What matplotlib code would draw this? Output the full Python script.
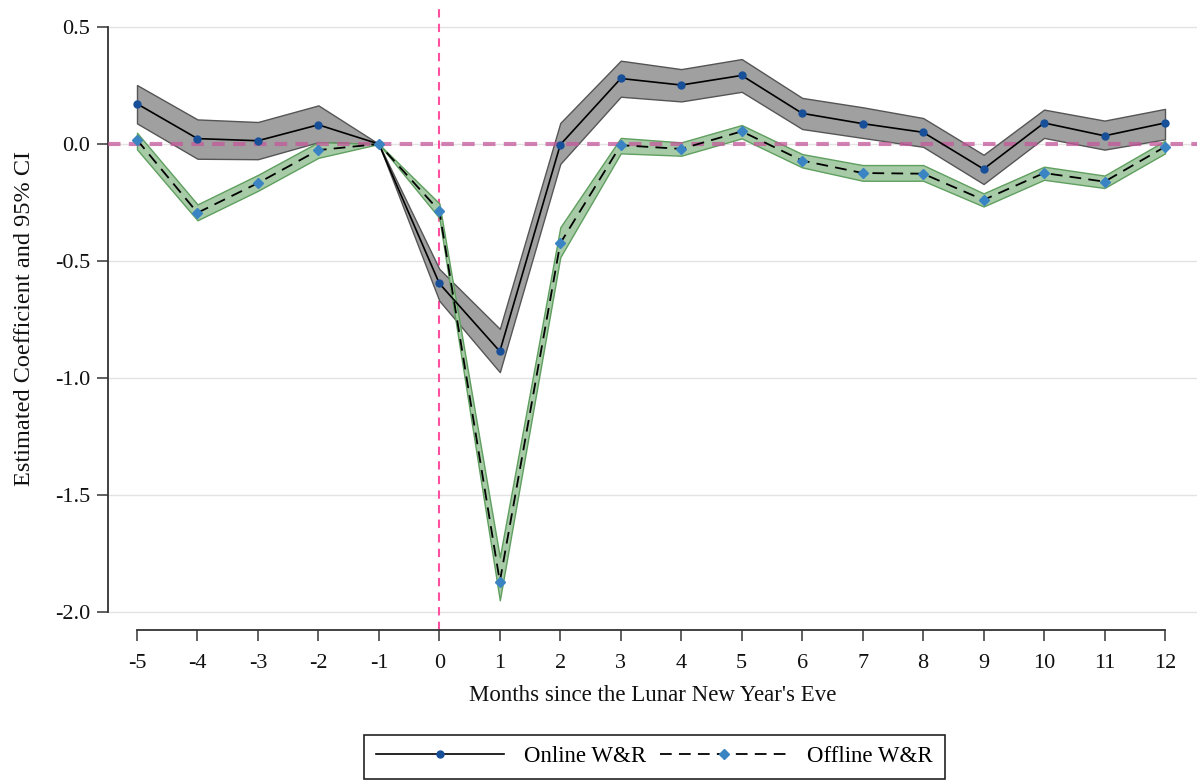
import matplotlib
matplotlib.use("Agg")
import matplotlib.pyplot as plt
from matplotlib.ticker import FuncFormatter

months = [-5, -4, -3, -2, -1, 0, 1, 2, 3, 4, 5, 6, 7, 8, 9, 10, 11, 12]

online_coef = [0.172, 0.023, 0.014, 0.082, 0.0, -0.596, -0.886, -0.003, 0.280, 0.252, 0.293,
               0.131, 0.087, 0.050, -0.107, 0.090, 0.035, 0.090]
online_lo = [0.088, -0.063, -0.065, 0.008, 0.0, -0.670, -0.975, -0.085, 0.202, 0.182, 0.223,
             0.064, 0.026, -0.012, -0.171, 0.026, -0.024, 0.020]
online_hi = [0.252, 0.105, 0.094, 0.165, 0.0, -0.534, -0.790, 0.090, 0.356, 0.320, 0.363,
             0.197, 0.157, 0.111, -0.046, 0.147, 0.100, 0.150]

offline_coef = [0.018, -0.294, -0.167, -0.026, 0.0, -0.286, -1.870, -0.424, -0.005, -0.021, 0.054,
                -0.071, -0.124, -0.127, -0.239, -0.124, -0.161, -0.012]
offline_lo = [-0.023, -0.326, -0.200, -0.059, 0.0, -0.316, -1.950, -0.484, -0.040, -0.050, 0.024,
              -0.100, -0.157, -0.157, -0.267, -0.153, -0.188, -0.040]
offline_hi = [0.048, -0.258, -0.132, 0.008, 0.0, -0.254, -1.766, -0.356, 0.026, 0.007, 0.081,
              -0.043, -0.090, -0.090, -0.211, -0.097, -0.135, 0.014]

y_ticks = [0.5, 0.0, -0.5, -1.0, -1.5, -2.0]

plt.rcParams['font.family'] = ['Liberation Serif', 'DejaVu Serif']

fig = plt.figure(figsize=(11.97, 7.81), dpi=100)
ax = fig.add_axes([108/1197, 1 - 630/781, 1 - 108/1197, (630 - 8)/781])

ax.set_xlim(-5 - 29/60.47, 12 + 32/60.47)
ax.set_ylim(-2.0 - 18/234, 0.5 + 19/234)

for t in y_ticks:
    ax.axhline(t, color='#e3e3e3', lw=1.0, zorder=0)

ax.fill_between(months, online_lo, online_hi, facecolor='#a0a0a0', edgecolor='#555555',
                lw=1.0, zorder=2)
ax.fill_between(months, offline_lo, offline_hi, facecolor='#a6cba6', edgecolor='#5f9f5f',
                lw=1.0, zorder=2.1)

ax.axhline(0, color='#c4589a', lw=3.0, ls=(0, (3, 2)), alpha=0.75, zorder=4)
ax.axvline(0, color='#ff4f9f', lw=1.5, ls=(0, (4, 3)), zorder=1)

ax.plot(months, online_coef, color='black', lw=1.2, marker='o', ms=5,
        mfc='#174f99', mec='#174f99', zorder=5, label='Online W&R')
ax.plot(months, offline_coef, color='black', lw=1.3, ls=(0, (6.5, 4)), marker='D', ms=5,
        mfc='#3a84c4', mec='#3a84c4', zorder=5, label='Offline W&R')

ax.set_yticks(y_ticks)
ax.set_xticks(months)
ax.yaxis.set_major_formatter(FuncFormatter(lambda v, p: f"{v:.1f}".replace('\u2212', '-')))
ax.xaxis.set_major_formatter(FuncFormatter(lambda v, p: f"{int(round(v))}"))

for s in ['top', 'right']:
    ax.spines[s].set_visible(False)
ax.spines['left'].set_bounds(-2.0, 0.5)
ax.spines['bottom'].set_bounds(-5, 12)
for s in ['left', 'bottom']:
    ax.spines[s].set_color('#333333')
    ax.spines[s].set_linewidth(1.3)

ax.tick_params(axis='both', direction='out', length=8, width=1.2, color='#444444',
               labelsize=16, labelcolor='#111111')
ax.tick_params(axis='y', pad=5)
ax.tick_params(axis='x', pad=9)

ax.set_xlabel("Months since the Lunar New Year's Eve", fontsize=16.5, labelpad=9, color='#111111')
ax.set_ylabel("Estimated Coefficient and 95% CI", fontsize=17.5, labelpad=14, color='#111111')

leg = fig.legend(*ax.get_legend_handles_labels(), loc='lower center',
                 bbox_to_anchor=(654.5/1197, -0.012), ncol=2, fontsize=16.5,
                 frameon=True, fancybox=False, edgecolor='#222222', framealpha=1,
                 handlelength=5.6, handletextpad=0.85, columnspacing=0.6,
                 borderpad=0.5, numpoints=1)
leg.get_frame().set_linewidth(1.2)

fig.savefig('out.png', dpi=100)
